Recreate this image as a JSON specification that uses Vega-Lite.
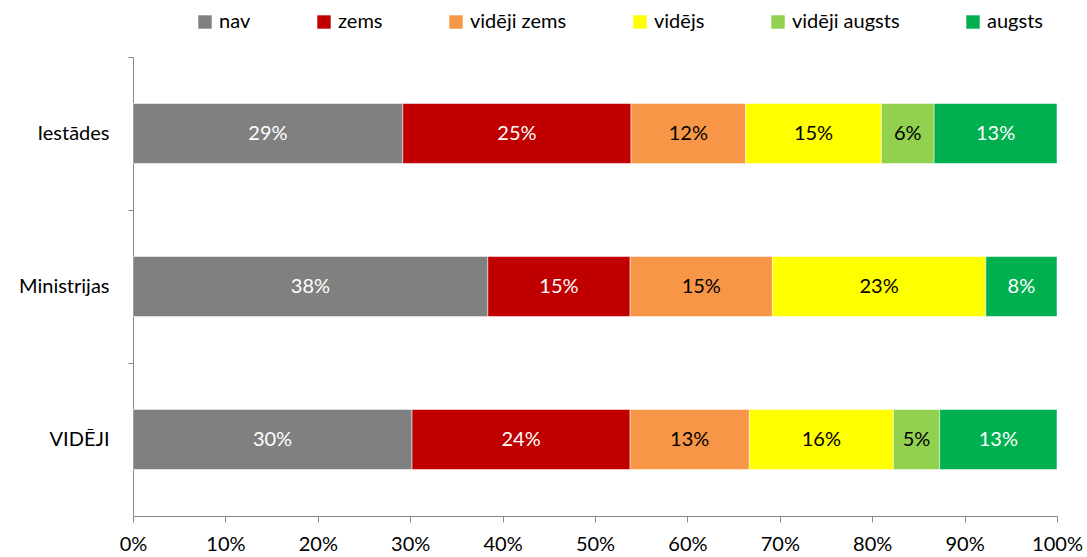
{
  "$schema": "https://vega.github.io/schema/vega-lite/v6.json",
  "width": 924,
  "height": 459,
  "autosize": "none",
  "padding": {"left": 133, "top": 57, "right": 30, "bottom": 41},
  "background": "white",
  "config": {
    "view": {"stroke": null},
    "font": "Lato",
    "axis": {"labelFont": "Lato", "labelFontSize": 20, "labelColor": "#000000", "domainColor": "#888888", "tickColor": "#888888", "grid": false, "title": null},
    "legend": {"labelFont": "Lato", "labelFontSize": 20, "labelColor": "#000000"}
  },
  "data": {
    "values": [
      {"grupa": "Iestādes", "limenis": "nav", "k": 1, "v": 0.292},
      {"grupa": "Iestādes", "limenis": "zems", "k": 2, "v": 0.247},
      {"grupa": "Iestādes", "limenis": "vidēji zems", "k": 3, "v": 0.124},
      {"grupa": "Iestādes", "limenis": "vidējs", "k": 4, "v": 0.147},
      {"grupa": "Iestādes", "limenis": "vidēji augsts", "k": 5, "v": 0.057},
      {"grupa": "Iestādes", "limenis": "augsts", "k": 6, "v": 0.133},
      {"grupa": "Ministrijas", "limenis": "nav", "k": 1, "v": 0.384},
      {"grupa": "Ministrijas", "limenis": "zems", "k": 2, "v": 0.154},
      {"grupa": "Ministrijas", "limenis": "vidēji zems", "k": 3, "v": 0.154},
      {"grupa": "Ministrijas", "limenis": "vidējs", "k": 4, "v": 0.231},
      {"grupa": "Ministrijas", "limenis": "augsts", "k": 6, "v": 0.077},
      {"grupa": "VIDĒJI", "limenis": "nav", "k": 1, "v": 0.302},
      {"grupa": "VIDĒJI", "limenis": "zems", "k": 2, "v": 0.236},
      {"grupa": "VIDĒJI", "limenis": "vidēji zems", "k": 3, "v": 0.129},
      {"grupa": "VIDĒJI", "limenis": "vidējs", "k": 4, "v": 0.156},
      {"grupa": "VIDĒJI", "limenis": "vidēji augsts", "k": 5, "v": 0.05},
      {"grupa": "VIDĒJI", "limenis": "augsts", "k": 6, "v": 0.127}
    ]
  },
  "encoding": {
    "y": {"field": "grupa", "type": "nominal", "sort": ["Iestādes", "Ministrijas", "VIDĒJI"], "scale": {"padding": 0}},
    "x": {"field": "v", "type": "quantitative", "stack": "zero", "scale": {"domain": [0, 1], "nice": false}},
    "order": {"field": "k", "type": "quantitative"}
  },
  "layer": [
    {
      "mark": {"type": "bar", "height": {"band": 0.392}, "stroke": "#ffffff", "strokeWidth": 0.5},
      "encoding": {
        "y": {"field": "grupa", "type": "nominal", "sort": ["Iestādes", "Ministrijas", "VIDĒJI"], "scale": {"padding": 0},
              "axis": {"orient": "left", "ticks": false, "domain": false, "labelPadding": 24}},
        "x": {"field": "v", "type": "quantitative", "stack": "zero", "scale": {"domain": [0, 1], "nice": false},
              "axis": {"format": ".0%", "values": [0, 0.1, 0.2, 0.3, 0.4, 0.5, 0.6, 0.7, 0.8, 0.9, 1], "tickSize": 6, "labelPadding": 12, "labelFlush": false}},
        "color": {
          "field": "limenis", "type": "nominal",
          "sort": ["nav", "zems", "vidēji zems", "vidējs", "vidēji augsts", "augsts"],
          "scale": {"domain": ["nav", "zems", "vidēji zems", "vidējs", "vidēji augsts", "augsts"], "range": ["#808080", "#C00000", "#F79646", "#FFFF00", "#92D050", "#00B050"]},
          "legend": {"orient": "none", "legendX": 62, "legendY": -45, "direction": "horizontal", "title": null, "symbolType": "square", "symbolSize": 180, "symbolStrokeWidth": 0, "labelOffset": 4, "columnPadding": 63}
        }
      }
    },
    {
      "mark": {"type": "text", "fontSize": 20, "font": "Lato"},
      "encoding": {
        "y": {"field": "grupa", "type": "nominal", "sort": ["Iestādes", "Ministrijas", "VIDĒJI"], "scale": {"padding": 0},
              "axis": {"orient": "left", "labels": false, "ticks": true, "tickSize": 5, "bandPosition": 0, "domain": true}},
        "x": {"field": "v", "type": "quantitative", "stack": "zero", "bandPosition": 0.5},
        "text": {"field": "v", "type": "quantitative", "format": ".0%"},
        "color": {
          "field": "limenis", "type": "nominal",
          "scale": {"domain": ["nav", "zems", "vidēji zems", "vidējs", "vidēji augsts", "augsts"], "range": ["#ffffff", "#ffffff", "#000000", "#000000", "#000000", "#ffffff"]},
          "legend": null
        }
      }
    }
  ],
  "resolve": {"axis": {"y": "independent"}, "scale": {"color": "independent"}}
}
